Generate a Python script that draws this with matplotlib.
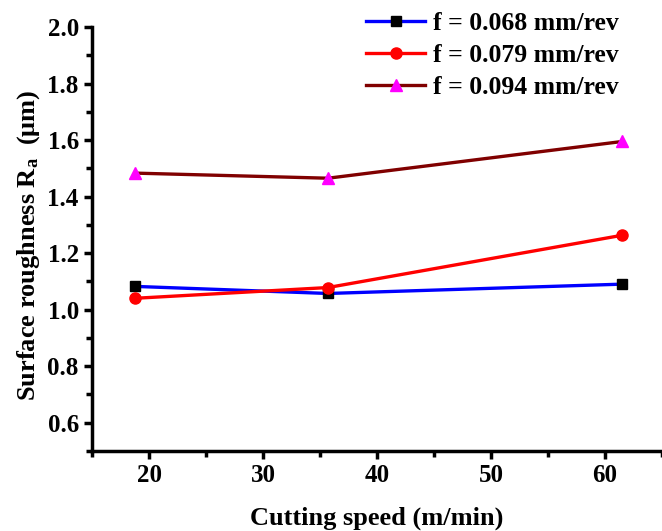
import matplotlib.pyplot as plt
from matplotlib.ticker import MultipleLocator

plt.rcParams['font.family'] = ['Liberation Serif', 'DejaVu Serif']
plt.rcParams['font.weight'] = 'bold'
plt.rcParams['mathtext.fontset'] = 'custom'
plt.rcParams['mathtext.rm'] = 'Liberation Serif:bold'
plt.rcParams['mathtext.it'] = 'Liberation Serif:bold'

speed = [18.8, 35.7, 61.5]
ra_068 = [1.082, 1.057, 1.090]
ra_079 = [1.040, 1.078, 1.263]
ra_094 = [1.483, 1.465, 1.595]
labels = ['f = 0.068 mm/rev', 'f = 0.079 mm/rev', 'f = 0.094 mm/rev']

fig = plt.figure(figsize=(6.62, 5.31), dpi=100)
ax = fig.add_axes([0.139, 0.151, 0.861, 0.798])

ax.plot(speed, ra_068, color='#0000ff', lw=2.4, marker='s', ms=7,
        mfc='black', mec='black', label=labels[0])
ax.plot(speed, ra_079, color='#ff0000', lw=2.4, marker='o', ms=8,
        mfc='#ff0000', mec='#ff0000', label=labels[1])
ax.plot(speed, ra_094, color='#800000', lw=2.4, marker='^', ms=8,
        mfc='#ff00ff', mec='#ff00ff', label=labels[2])

ax.set_xlim(15, 65)
ax.set_ylim(0.5, 2.0)
ax.xaxis.set_major_locator(MultipleLocator(10))
ax.xaxis.set_minor_locator(MultipleLocator(5))
ax.yaxis.set_minor_locator(MultipleLocator(0.1))
ax.set_yticks([0.6, 0.8, 1.0, 1.2, 1.4, 1.6, 1.8, 2.0])

for s in ['top', 'right']:
    ax.spines[s].set_visible(False)
for s in ['left', 'bottom']:
    ax.spines[s].set_linewidth(2.5)
ax.tick_params(which='major', length=6, width=2.5, labelsize=18, direction='out')
ax.tick_params(which='minor', length=4, width=2.5, direction='out')
for t in ax.get_xticklabels() + ax.get_yticklabels():
    t.set_fontweight('bold')

ax.set_xlabel('Cutting speed (m/min)', fontsize=19, fontweight='bold', labelpad=14)
ax.set_ylabel(r'Surface roughness R$_\mathregular{a}$  (μm)', fontsize=19,
              fontweight='bold')
ax.yaxis.set_label_coords(-0.088, 0.485)

ax.legend(loc='upper right', bbox_to_anchor=(0.965, 1.09), frameon=False,
          prop={'size': 18.5, 'weight': 'bold'}, handlelength=2.3,
          handletextpad=0.3, labelspacing=0.35)

fig.savefig('out.png', dpi=100)
